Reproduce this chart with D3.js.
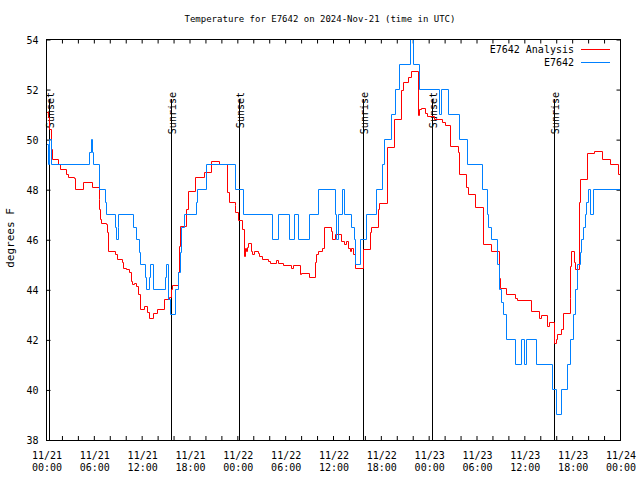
<!DOCTYPE html>
<html><head><meta charset="utf-8">
<script src="https://cdn.jsdelivr.net/npm/d3@7"></script>
<style>body{margin:0;background:#fff}svg{display:block}</style>
</head><body>
<svg id="c" width="640" height="480"></svg>
<script>
// ---- data (hours since 2024-11-21 00:00 UTC) ----
const titleText = "Temperature for E7642 on 2024-Nov-21 (time in UTC)";
const yLabel = "degrees F";
const seriesNames = ["E7642 Analysis", "E7642"];
const seriesColors = ["#ff0000", "#0080ff"];
const yTicks = [38, 40, 42, 44, 46, 48, 50, 52, 54];

const analysisHours = [0,0.23,0.38,0.63,0.78,1.48,1.78,2.53,2.73,3.57,3.7,4.7,5.75,6.62,6.71,6.8,6.92,7.55,7.63,7.75,8.68,8.88,9.51,9.72,10.06,10.39,10.69,10.81,11.01,11.31,11.52,11.73,12.23,12.64,12.9,13.48,13.9,14.74,15.49,15.62,15.78,16.53,16.66,16.83,17.5,17.79,18.75,19.76,20.72,21.7,22.68,22.93,23.65,23.77,24.06,24.61,24.81,24.94,25.03,25.19,25.31,25.74,25.87,26.03,26.57,26.78,27.12,27.82,28.04,28.88,29.08,29.7,30.76,30.96,31.8,32.01,32.97,33.77,33.89,34.09,34.65,34.93,35.69,35.9,36.31,37.03,37.32,37.57,37.86,38.07,38.32,38.53,38.79,39.74,40.67,40.79,41.62,41.83,42.8,43.63,44.59,44.76,45.47,45.81,46.6,46.73,46.98,47.6,47.85,48.73,49.61,50.11,50.7,51.66,51.78,52.71,52.91,53.75,54.79,55.76,56.76,56.89,57.73,58.89,59.06,60.86,61.78,62.03,62.82,63.07,63.78,64.0,64.1,64.54,64.83,65.67,65.75,65.88,66.17,66.38,66.8,66.92,67.89,68.8,69.77,70.69,71.73,71.94,72];
const analysisTemps = [51.1,50.9,50.4,49.6,49.2,49.0,48.8,48.6,48.5,48.45,48.0,48.3,48.1,47.6,47.2,46.8,46.65,46.6,46.3,45.55,45.4,45.2,45.1,44.87,44.8,44.7,44.33,44.2,44.27,44.15,43.8,43.2,43.33,43.1,42.87,43.07,43.2,43.63,43.7,44.0,44.16,44.7,45.73,46.53,47.2,47.93,48.47,48.7,49.13,49.0,47.87,47.47,47.38,47.07,46.77,46.4,45.33,45.67,45.53,45.7,45.84,45.53,45.4,45.53,45.47,45.33,45.23,45.15,45.07,45.17,45.07,44.96,44.87,44.96,44.6,44.67,44.5,45.1,45.4,45.53,45.67,46.47,46.33,46.0,46.2,45.95,45.8,45.95,45.67,45.53,45.67,45.4,44.87,45.6,46.27,46.47,47.2,47.44,49.67,50.8,51.95,52.27,52.5,52.73,50.96,51.2,51.25,51.05,50.93,50.8,50.67,50.56,49.73,49.47,48.6,48.07,47.8,47.3,45.8,45.53,44.47,44.07,43.8,43.67,43.56,43.13,42.87,42.96,42.53,42.7,41.87,42.0,42.2,42.4,43.07,43.67,44.93,45.53,45.1,44.83,47.47,48.4,49.44,49.53,49.2,49.0,48.6,48.07,48.0];

const stationHours = [0,0.2,0.35,0.6,5.45,5.6,5.8,5.95,6.71,7.34,7.55,8.65,8.81,9.0,9.09,10.89,11.31,11.64,11.82,12.36,12.57,12.95,13.07,13.36,14.9,14.99,15.28,15.58,16.21,16.53,16.75,16.96,17.37,18.84,19.0,20.1,23.65,24.69,28.29,29.08,30.54,31.08,31.59,33.05,34.09,36.28,36.4,36.57,37.15,37.35,38.3,38.6,38.82,39.33,40.17,41.42,42.17,42.37,43.3,43.72,44.34,45.72,46.04,46.76,49.27,49.57,50.45,51.78,52.83,54.72,55.26,55.42,55.85,56.55,56.8,57.1,57.3,57.73,58.77,59.52,60.02,60.24,61.45,63.5,63.95,64.6,65.3,65.75,66.15,66.4,66.6,66.92,67.13,67.3,67.55,67.75,68.0,68.25,68.6,72];
const stationTemps = [49.8,49,50,49,49.5,50,49.5,49,48,47.5,47,46.5,46,46.5,47,46.5,46,45.5,45,44.5,44,44.5,45,44,44.5,45,43.6,43,44,44.7,45.5,46.5,47,47.5,48,49,48,47,46,47,46,47,46,47,48,47,46,47,48,47,46.5,46,45,46,47,48,49,50,51,52,53,54,53,52,51,52,51,50,49,48,47,46.5,46,45,44,43.5,43,42,41,42,41,42,41,40,39,40,41,42,43,44,45,45.5,46,46.5,47,47.5,48,47,48,48];

const sunLabels = ["Sunset", "Sunrise", "Sunset", "Sunrise", "Sunset", "Sunrise"];
const sunTimes = ["2024-11-21T00:20Z", "2024-11-21T15:42Z", "2024-11-22T00:16Z", "2024-11-22T15:44Z", "2024-11-23T00:23Z", "2024-11-23T15:42Z"];

// ---- chart ----
const start = Date.UTC(2024, 10, 21, 0, 0);
const end = Date.UTC(2024, 10, 24, 0, 0);
const L = 46.5, R = 620.5, T = 39.5, B = 440;
const mono = "'DejaVu Sans Mono', 'Liberation Mono', monospace";

const svg = d3.select("#c");
const x = d3.scaleUtc().domain([new Date(start), new Date(end)]).range([L, R]);
const y = d3.scaleLinear().domain([38, 54]).range([B, T]);
const px = v => Math.round(v - 0.5) + 0.5;

const toPts = (hs, vs) => hs.map((h, i) => ({t: new Date(start + h * 3600000), v: vs[i]}));
const series = [toPts(analysisHours, analysisTemps), toPts(stationHours, stationTemps)];

svg.append("defs").append("clipPath").attr("id", "clip")
  .append("rect").attr("x", L - 0.5).attr("y", T - 0.5).attr("width", R - L + 1).attr("height", B - T + 1);

// axes (inward ticks)
const majorTicks = x.ticks(d3.utcHour.every(6));
const minorTicks = x.ticks(d3.utcHour.every(2));
function styleAxis(g) {
  g.select(".domain").remove();
  g.selectAll("line").attr("stroke", "#000");
}
svg.append("g").attr("transform", `translate(0,${B})`)
  .call(d3.axisBottom(x.copy().range([px(L), px(R)])).tickValues(minorTicks).tickSize(-4).tickFormat("").offset(0)).call(styleAxis);
svg.append("g").attr("transform", `translate(0,${T})`)
  .call(d3.axisTop(x.copy().range([px(L), px(R)])).tickValues(minorTicks).tickSize(-4).tickFormat("").offset(0)).call(styleAxis);
svg.append("g").attr("transform", `translate(${R},0)`)
  .call(d3.axisRight(y).tickValues(yTicks).tickSize(-4).tickFormat("").offset(0.5)).call(styleAxis);
const yAx = svg.append("g").attr("transform", `translate(${L},0)`)
  .call(d3.axisLeft(y).tickValues(yTicks).tickSize(-4).tickPadding(8).tickFormat(d3.format("d")).offset(0.5))
  .call(styleAxis);
yAx.selectAll("text").attr("font-family", mono).attr("font-size", 10).attr("fill", "#000").attr("dy", "0.36em");

// x tick labels, two lines
const xl = svg.append("g").attr("font-family", mono).attr("font-size", 10).attr("fill", "#000").attr("text-anchor", "middle");
xl.selectAll("text").data(majorTicks).join("text")
  .call(t => {
    t.append("tspan").attr("x", d => x(d) + 0.5).attr("y", 459).text(d3.utcFormat("%m/%d"));
    t.append("tspan").attr("x", d => x(d) + 0.5).attr("y", 471).text(d3.utcFormat("%H:%M"));
  });

// sunrise / sunset markers
const sunG = svg.append("g");
sunTimes.forEach((s, i) => {
  const xx = px(x(new Date(s)));
  sunG.append("line").attr("x1", xx).attr("x2", xx).attr("y1", 99).attr("y2", B)
    .attr("stroke", "#000").attr("stroke-width", 1);
  sunG.append("text").attr("transform", `translate(${xx + 4.8},92) rotate(-90)`)
    .attr("text-anchor", "end").attr("font-family", mono).attr("font-size", 10).attr("fill", "#000")
    .text(sunLabels[i]);
});

// data lines (snapped to pixel centres)
const line = d3.line().x(d => px(x(d.t))).y(d => px(y(d.v))).curve(d3.curveStepAfter);
const lg = svg.append("g").attr("clip-path", "url(#clip)");
series.forEach((s, i) => {
  lg.append("path").datum(s).attr("d", line).attr("fill", "none")
    .attr("stroke", seriesColors[i]).attr("stroke-width", 1);
});

// border
svg.append("rect").attr("x", L).attr("y", T).attr("width", R - L).attr("height", px(B) - T)
  .attr("fill", "none").attr("stroke", "#000");

// legend
const leg = svg.append("g");
seriesNames.forEach((n, i) => {
  const ly = 49.5 + i * 13;
  leg.append("text").attr("x", 574).attr("y", ly + 3.6).attr("text-anchor", "end")
    .attr("font-family", mono).attr("font-size", 10).attr("fill", "#000").text(n);
  leg.append("line").attr("x1", 581).attr("x2", 610).attr("y1", ly).attr("y2", ly)
    .attr("stroke", seriesColors[i]);
});

// title and y label
svg.append("text").attr("x", 320).attr("y", 22).attr("text-anchor", "middle")
  .attr("font-family", mono).attr("font-size", 9).attr("fill", "#000").text(titleText);
svg.append("text").attr("transform", "translate(14,238) rotate(-90)").attr("text-anchor", "middle")
  .attr("font-family", mono).attr("font-size", 11).attr("fill", "#000").text(yLabel);
</script>
</body></html>
